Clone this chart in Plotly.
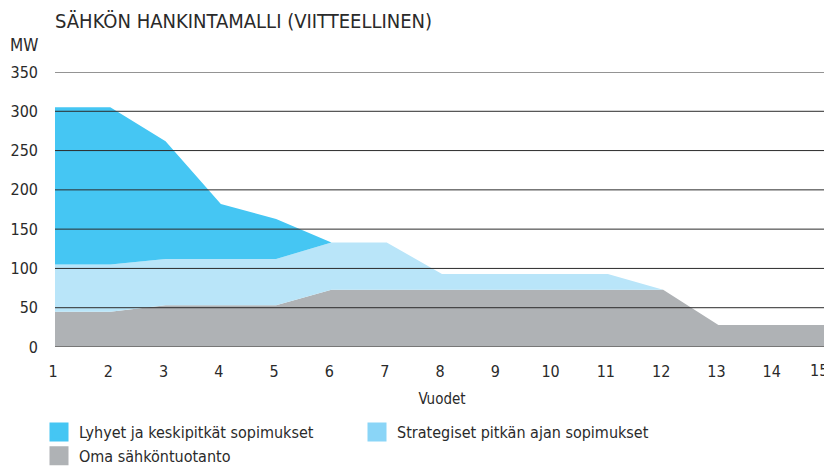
import plotly.graph_objects as go

years = list(range(1, 16))
x_tick_labels = [str(y) for y in years]
oma = [45, 45, 53, 53, 53, 73, 73, 73, 73, 73, 73, 73, 28, 28, 28]
strategiset = [60, 60, 59, 59, 59, 60, 60, 20, 20, 20, 20, 0, 0, 0, 0]
lyhyet = [200, 200, 150, 70, 51, 0, 0, 0, 0, 0, 0, 0, 0, 0, 0]
y_ticks = [0, 50, 100, 150, 200, 250, 300, 350]

names = ["Lyhyet ja keskipitkät sopimukset", "Strategiset pitkän ajan sopimukset", "Oma sähköntuotanto"]
fill_colors = {"lyhyet": "#45C6F3", "strat": "#B9E5F9", "oma": "#AFB2B5"}
legend_colors = ["#45C6F3", "#8AD5F7", "#AFB2B5"]

FONT = "DejaVu Sans Condensed, Roboto Condensed, Liberation Sans Narrow, sans-serif"
TXT = "#2a2a2a"

# page has an 8px body margin: figure spans page x 8..832, y 8..468
W, H = 824, 460
L, R, T, B = 47, 3, 64, 121
PH = H - T - B

fig = go.Figure()
for vals, key in [(oma, "oma"), (strategiset, "strat"), (lyhyet, "lyhyet")]:
    fig.add_trace(go.Scatter(
        x=years, y=vals, stackgroup="one", mode="none",
        fillcolor=fill_colors[key], showlegend=False, hoverinfo="skip"))

for name, col in zip(names, legend_colors):
    fig.add_trace(go.Scatter(
        x=[None], y=[None], mode="markers", name=name,
        marker=dict(symbol="square", size=16, color=col, line=dict(color=col, width=3))))

shapes = []
for t in y_ticks:
    shapes.append(dict(type="line", xref="paper", yref="y", x0=0, x1=1.01, y0=t, y1=t,
                       line=dict(color="#777777" if t == 0 else "#2b2b2b", width=2 if t == 0 else 1),
                       layer="above"))

# last tick label sits flush against the right edge, so it is drawn right-aligned
tick_text = x_tick_labels[:-1] + [""]
annotations = [
    dict(text="MW", xref="paper", yref="paper", x=-L / (W - L - R), xanchor="left",
         y=1 + 27 / PH, yanchor="middle", showarrow=False, font=dict(size=17, color=TXT)),
    dict(text=x_tick_labels[-1], xref="x", yref="paper", x=years[-1], xanchor="right", xshift=1,
         y=0, yanchor="top", yshift=-12, showarrow=False, font=dict(size=16, color=TXT)),
]

fig.update_layout(
    width=W, height=H,
    margin=dict(l=L, r=R, t=T, b=B, autoexpand=False),
    paper_bgcolor="white", plot_bgcolor="white",
    font=dict(family=FONT, size=16, color=TXT),
    title=dict(text="SÄHKÖN HANKINTAMALLI (VIITTEELLINEN)", x=L / W, xanchor="left",
               y=1 - 13 / H, yanchor="middle", font=dict(size=20, color=TXT)),
    xaxis=dict(range=[1, 15], tickvals=years, ticktext=tick_text, showgrid=False,
               zeroline=False, showline=False, ticks="", ticklabelstandoff=13,
               ticklabelshift=-2, tickfont=dict(size=16), automargin=False,
               title=dict(text="Vuodet", font=dict(size=15), standoff=13)),
    yaxis=dict(range=[0, 350], tickvals=y_ticks, showgrid=False, zeroline=False, showline=False,
               ticks="", ticklabelstandoff=16, tickfont=dict(size=16), automargin=False),
    shapes=shapes,
    annotations=annotations,
    legend=dict(orientation="h", x=-16 / (W - L - R), xanchor="left", y=-68 / PH, yanchor="top",
                entrywidth=273, entrywidthmode="pixels", font=dict(size=16, color=TXT),
                itemsizing="trace", tracegroupgap=0, traceorder="normal"),
    showlegend=True,
)

fig.write_html("out.html")
